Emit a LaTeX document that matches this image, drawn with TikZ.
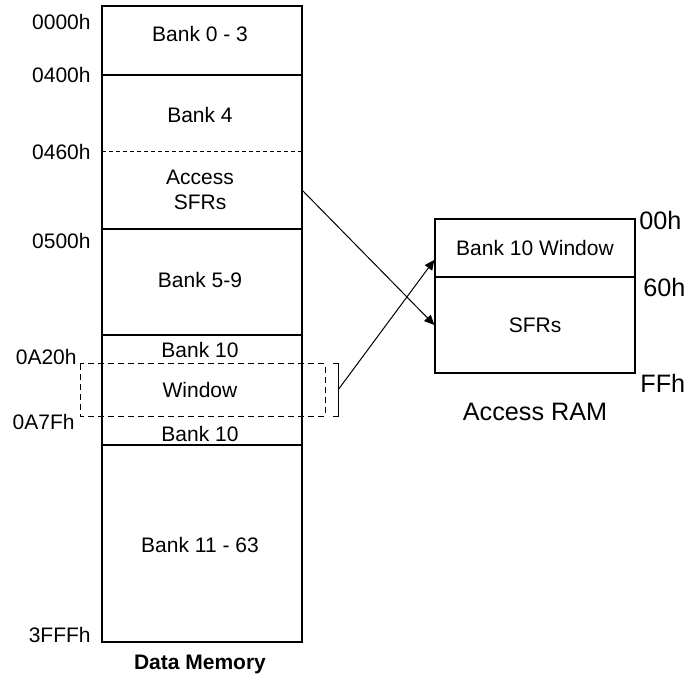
\documentclass[tikz,border=0pt]{standalone}
\usepackage{fontspec}
\setmainfont{Liberation Sans}
\usetikzlibrary{positioning, arrows.meta, calc}

\begin{document}
\begin{tikzpicture}[x=0.5pt, y=-0.5pt,
        lbl/.style={font=\fontsize{10.5}{12.5}\selectfont, inner sep=0pt, align=center},
        addr/.style={font=\fontsize{10.5}{12.5}\selectfont, inner sep=0pt, anchor=east},
        raddr/.style={font=\fontsize{12.6}{15}\selectfont, inner sep=0pt, anchor=west},
        ram/.style={draw, line width=0.6pt, minimum width=100pt, inner sep=0pt, font=\fontsize{10.5}{12.5}\selectfont},
        arr/.style={-{Triangle[length=5pt, width=4.5pt]}, line width=0.5pt}]
        \useasboundingbox (0,0) rectangle (691,679);
        % data memory
        \draw[line width=0.6pt] (102,6) rectangle (302,642);
        \draw[line width=0.6pt] (102,75) -- (302,75);
        \draw[line width=0.5pt, dash pattern=on 2pt off 1.5pt] (102,152) -- (302,152);
        \draw[line width=0.6pt] (102,229) -- (302,229);
        \draw[line width=0.6pt] (102,335) -- (302,335);
        \draw[line width=0.6pt] (102,445) -- (302,445);
        \draw[line width=0.5pt, dash pattern=on 3pt off 2pt] (80,364) rectangle (325,416);
        \draw[line width=0.5pt] (333,364) -- (338,364) -- (338,416) -- (333,416);
        \node[lbl] (b03) at (200,34) {Bank 0 - 3};
        \node[lbl] (b4) at (200,115) {Bank 4};
        \node[lbl] (asfr) at (200,190) {Access\\SFRs};
        \node[lbl] (b59) at (200,280) {Bank 5-9};
        \node[lbl] (b10a) at (200,350) {Bank 10};
        \node[lbl] (win) at (200,390) {Window};
        \node[lbl] (b10b) at (200,434) {Bank 10};
        \node[lbl] (b1163) at (200,545) {Bank 11 - 63};
        \node[lbl, font=\fontsize{10.5}{12.5}\selectfont\bfseries] (dmem) at (200,664) {Data Memory};
        \node[addr] (a0000) at (91,22) {0000h};
        \node[addr] (a0400) at (91,75) {0400h};
        \node[addr] (a0460) at (91,152) {0460h};
        \node[addr] (a0500) at (91,241) {0500h};
        \node[addr] (a0a20) at (77,357) {0A20h};
        \node[addr] (a0a7f) at (75,422) {0A7Fh};
        \node[addr] (a3fff) at (91,635) {3FFFh};
        % access ram
        \node[ram, minimum height=29pt] (rwin) at (535,248) {Bank 10 Window};
        \node[ram, minimum height=48pt, below=-0.6pt of rwin] (rsfr) {SFRs};
        \node[raddr] (r00) at (639,220) {00h};
        \node[raddr] (r60) at (643,287) {60h};
        \node[raddr] (rff) at (640,383) {FFh};
        \node[lbl, font=\fontsize{12.6}{15}\selectfont] (aram) at (535,412) {Access RAM};
        % mapping
        \coordinate (sfrout) at (302,190);
        \coordinate (winout) at (338,390);
        \draw[arr] (sfrout) -- (rsfr.west);
        \draw[arr] (winout) -- ($(rwin.north west)!0.7!(rwin.south west)$);
      \end{tikzpicture}
\end{document}
